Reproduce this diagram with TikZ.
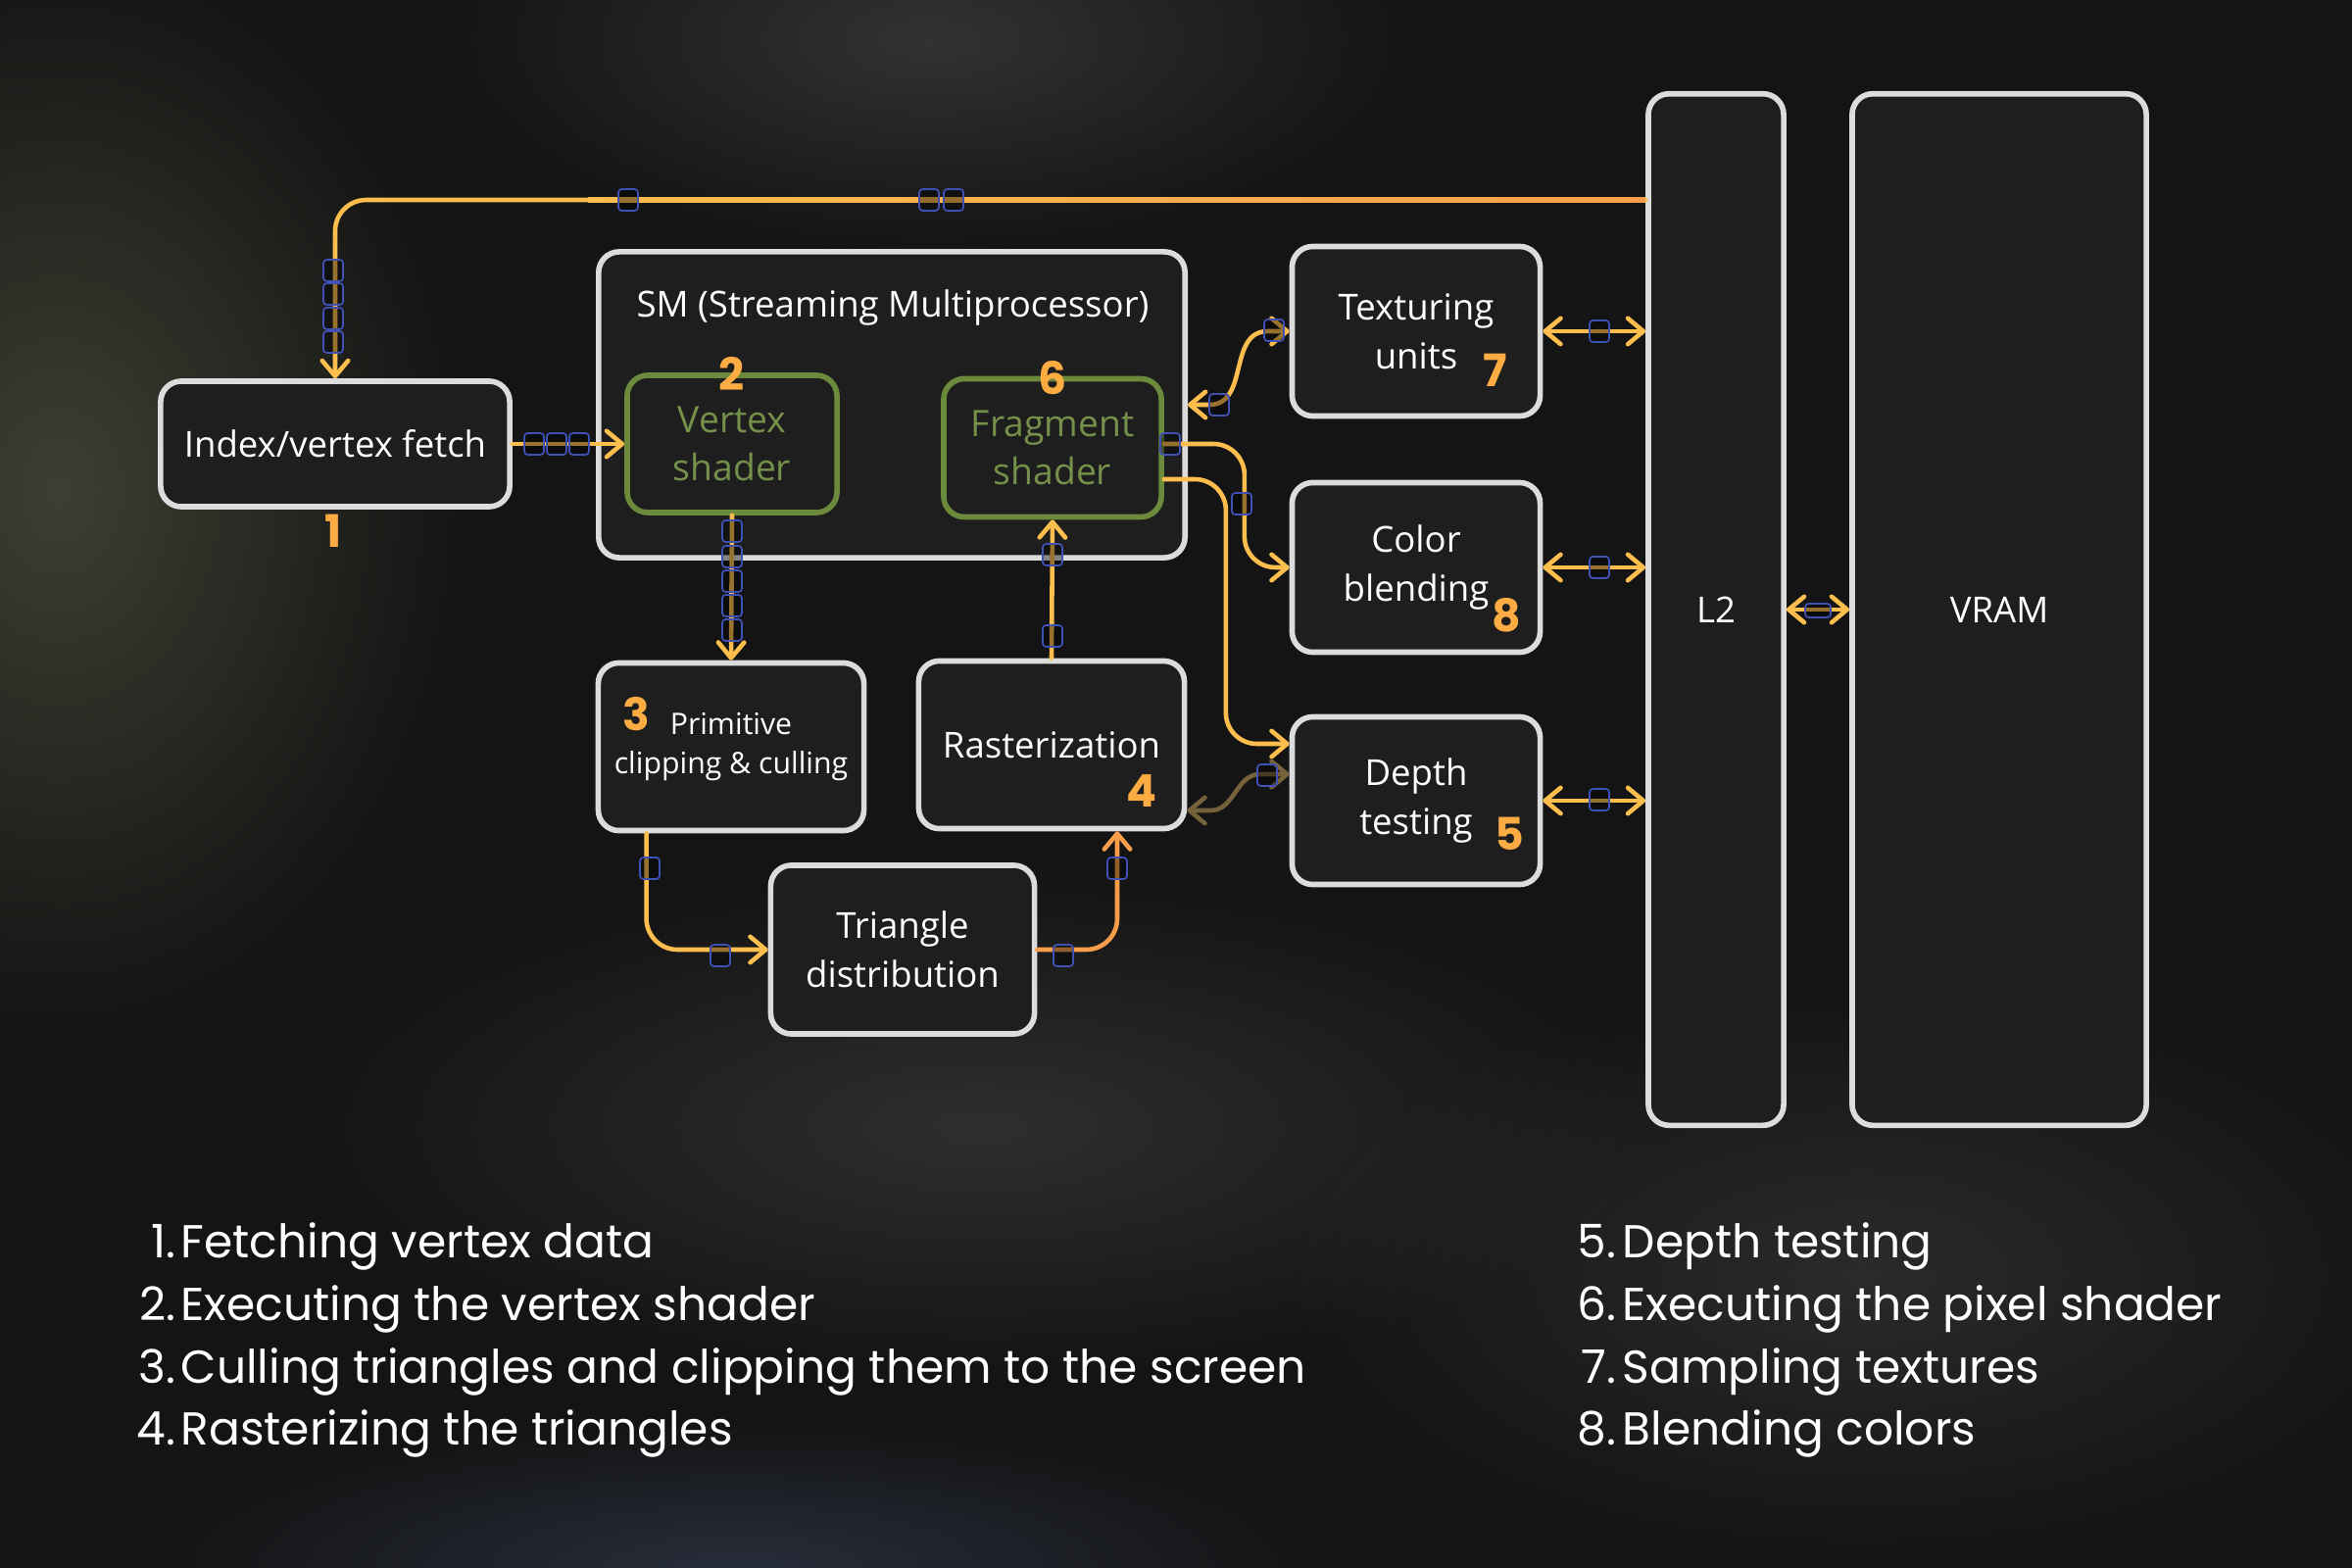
\documentclass[tikz,border=0pt]{standalone}
\usepackage{fontspec}
\setmainfont{Open Sans}
\newfontfamily\numfont{Poppins}
\newfontfamily\listfont{Poppins}
\usetikzlibrary{arrows.meta,calc,fadings}
\tikzfading[name=glowfade, inner color=transparent!0, outer color=transparent!100]
\definecolor{bgc}{HTML}{141414}
\definecolor{boxfill}{HTML}{1E1E1E}
\definecolor{boxline}{HTML}{DCDCDC}
\definecolor{grn}{HTML}{6B8A3C}
\definecolor{grntxt}{HTML}{74904A}
\definecolor{conncol}{HTML}{FDBE4E}
\definecolor{connor}{HTML}{F89E4A}
\definecolor{browncol}{HTML}{76623A}
\definecolor{sqblue}{HTML}{3F51B5}
\definecolor{numcol}{HTML}{FCAC42}
\definecolor{glowg}{HTML}{464B3A}
\definecolor{glowgr}{HTML}{3A3A3A}
\definecolor{glowb}{HTML}{2C3444}
\begin{document}
\begin{tikzpicture}[x=0.01cm,y=-0.01cm,
  box/.style={draw=boxline, line width=1.6pt, fill=boxfill, rounded corners=6pt, text=white,
    font=\fontsize{10.4}{14.2}\selectfont, align=center, inner sep=0pt},
  gbox/.style={draw=grn, line width=1.6pt, fill=boxfill, rounded corners=6pt, text=grntxt,
    font=\fontsize{10.6}{14}\selectfont, align=center, inner sep=0pt},
  num/.style={text=numcol, font=\numfont\bfseries\fontsize{13}{13}\selectfont, inner sep=0pt},
  conn/.style={draw=conncol, line width=1.3pt, line cap=round, rounded corners=9pt},
  >={Straight Barb[length=4.5pt,width=7.5pt,line cap=round,line join=round]},
  sqst/.style={draw=sqblue, line width=0.5pt, fill=black, fill opacity=0.4, rounded corners=1pt},
  listnum/.style={text=white, font=\listfont\fontsize{13.4}{13.4}\selectfont, inner sep=0pt, anchor=base east},
  listtxt/.style={text=white, font=\listfont\fontsize{13.4}{13.4}\selectfont, inner sep=0pt, anchor=base west}
]
\useasboundingbox (0,0) rectangle (2400,1600);
\fill[bgc] (0,0) rectangle (2400,1600);
% background glows
\fill[glowg, path fading=glowfade, opacity=0.8] (60,500) ellipse [x radius=420, y radius=560];
\fill[glowgr, path fading=glowfade, opacity=0.8] (950,40) ellipse [x radius=500, y radius=220];
\fill[glowgr, path fading=glowfade, opacity=0.7] (1000,1150) ellipse [x radius=700, y radius=260];
\fill[glowgr, path fading=glowfade, opacity=0.6] (1900,1300) ellipse [x radius=600, y radius=300];
\fill[glowb, path fading=glowfade, opacity=0.8] (750,1600) ellipse [x radius=600, y radius=150];

% boxes
\node[box, minimum width=3.56cm, minimum height=1.28cm] (idx) at (342,453) {Index/vertex fetch};
\node[box, minimum width=5.98cm, minimum height=3.12cm] (sm) at (910,413) {};
\node[text=white, font=\fontsize{10.4}{12}\selectfont, inner sep=0pt] (smt) at (911,314) {SM (Streaming Multiprocessor)};
\node[gbox, minimum width=2.14cm, minimum height=1.40cm] (vs) at (747,453) {Vertex\\shader};
\node[gbox, minimum width=2.22cm, minimum height=1.41cm] (fs) at (1074,457) {Fragment\\shader};
\node[box, minimum width=2.71cm, minimum height=1.71cm, font=\fontsize{8.6}{11.4}\selectfont] (prim) at (746,762) {Primitive\\clipping \& culling};
\node[box, minimum width=2.71cm, minimum height=1.71cm] (rast) at (1073,760) {Rasterization};
\node[box, minimum width=2.69cm, minimum height=1.72cm] (tri) at (921,969) {Triangle\\distribution};
\node[box, minimum width=2.53cm, minimum height=1.73cm] (tex) at (1445,338) {Texturing\\units};
\node[box, minimum width=2.53cm, minimum height=1.73cm] (col) at (1445,579) {Color\\blending};
\node[box, minimum width=2.53cm, minimum height=1.71cm] (dep) at (1445,817) {Depth\\testing};
\node[box, minimum width=1.38cm, minimum height=10.52cm] (l2) at (1751,622) {L2};
\node[box, minimum width=3.00cm, minimum height=10.52cm] (vram) at (2040,622) {VRAM};

% step numbers
\node[num] (n1) at (340,542) {1};
\node[num] (n2) at (747,381) {2};
\node[num] (n6) at (1074,386) {6};
\node[num] (n3) at (649,729) {3};
\node[num] (n4) at (1165,807) {4};
\node[num] (n7) at (1526,378) {7};
\node[num] (n8) at (1537,628) {8};
\node[num] (n5) at (1540,851) {5};

% connectors
\coordinate (toprow) at (0,204);
\draw[conn,->] (l2.west |- toprow) -| (idx.north);
\shade[left color=conncol, right color=connor] (600,201.8) rectangle (l2.west |- 0,206.2);
\draw[conn,->] (idx.east) -- (vs.west);
\draw[conn,->] (vs.south) -- (prim.north);
\draw[conn,->] ($(prim.south west)+(52,0)$) |- (tri.west);
\draw[conn,->,draw=connor] (tri.east) -| ($(rast.south)+(67,0)$);
\draw[conn,->] (rast.north) -- (fs.south);
\draw[conn,<->,sharp corners] (sm.east) -- ++(22,0) to[out=0,in=180,looseness=1.1] ($(tex.west)+(-22,0)$) -- (tex.west);
\draw[conn,->] ($(fs.east)+(0,-4)$) -- ($(fs.east)+(82,-4)$) |- (col.west);
\draw[conn,->] ($(fs.east)+(0,32)$) -- ($(fs.east)+(63,32)$) |- ($(dep.west)+(0,-58)$);
\draw[conn,<->,draw=browncol,sharp corners] ($(rast.east)+(0,67)$) -- ++(24,0) to[out=0,in=180] ($(dep.west)+(-30,-27)$) -- ($(dep.west)+(0,-27)$);
\draw[conn,<->] (tex.east) -- (l2.west |- tex.east);
\draw[conn,<->] (col.east) -- (l2.west |- col.east);
\draw[conn,<->] (dep.east) -- (l2.west |- dep.east);
\draw[conn,<->] (l2.east) -- (vram.west);

% small marker squares
\foreach \x/\y in {641/204, 948/204, 973/204,
  340/276, 340/300, 340/325, 340/349,
  545/453, 568/453, 591/453,
  747/542, 747/568, 747/593, 747/618, 747/643,
  663/886, 735/975, 1085/975, 1140/886,
  1074/649, 1074/566, 1244/413, 1300/337,
  1194/453, 1267/514, 1293/791,
  1632/338, 1632/579, 1632/816}
  \draw[sqst] (\x-10,\y-11) rectangle (\x+10,\y+11);
\draw[sqst] (1842,616) rectangle (1868,630);

% list
\node[listnum] (a1) at (180,1283) {1.};
\node[listtxt] (b1) at (184,1283) {Fetching vertex data};
\node[listnum] (a2) at (180,1347) {2.};
\node[listtxt] (b2) at (184,1347) {Executing the vertex shader};
\node[listnum] (a3) at (180,1411) {3.};
\node[listtxt] (b3) at (184,1411) {Culling triangles and clipping them to the screen};
\node[listnum] (a4) at (180,1474) {4.};
\node[listtxt] (b4) at (184,1474) {Rasterizing the triangles};
\node[listnum] (a5) at (1650,1283) {5.};
\node[listtxt] (b5) at (1655,1283) {Depth testing};
\node[listnum] (a6) at (1650,1347) {6.};
\node[listtxt] (b6) at (1655,1347) {Executing the pixel shader};
\node[listnum] (a7) at (1650,1411) {7.};
\node[listtxt] (b7) at (1655,1411) {Sampling textures};
\node[listnum] (a8) at (1650,1474) {8.};
\node[listtxt] (b8) at (1655,1474) {Blending colors};
\end{tikzpicture}
\end{document}
